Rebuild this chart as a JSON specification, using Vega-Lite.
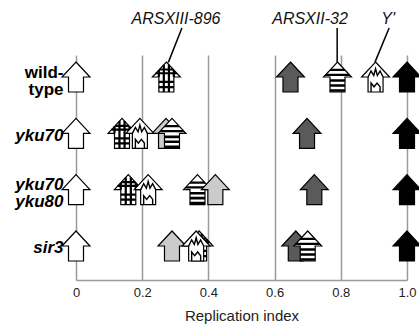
{
  "$schema": "https://vega.github.io/schema/vega-lite/v6.json",
  "width": 331,
  "height": 225,
  "autosize": {"type": "none"},
  "padding": {"left": 76, "top": 55, "right": 12, "bottom": 46},
  "background": "white",
  "config": {"view": {"stroke": null}},
  "datasets": {
    "arrows": [
      {"row": 1, "x": 0, "kind": "white", "z": 0},
      {"row": 1, "x": 0.273, "kind": "checkered", "z": 0},
      {"row": 1, "x": 0.648, "kind": "dark", "z": 0},
      {"row": 1, "x": 0.79, "kind": "striped", "z": 0},
      {"row": 1, "x": 0.905, "kind": "zigzag", "z": 0},
      {"row": 1, "x": 1, "kind": "black", "z": 0},
      {"row": 2, "x": 0, "kind": "white", "z": 0},
      {"row": 2, "x": 0.139, "kind": "checkered", "z": 0},
      {"row": 2, "x": 0.193, "kind": "zigzag", "z": 1},
      {"row": 2, "x": 0.272, "kind": "light", "z": 0},
      {"row": 2, "x": 0.29, "kind": "striped", "z": 1},
      {"row": 2, "x": 0.698, "kind": "dark", "z": 0},
      {"row": 2, "x": 1, "kind": "black", "z": 0},
      {"row": 3, "x": 0, "kind": "white", "z": 0},
      {"row": 3, "x": 0.158, "kind": "checkered", "z": 0},
      {"row": 3, "x": 0.218, "kind": "zigzag", "z": 1},
      {"row": 3, "x": 0.367, "kind": "striped", "z": 0},
      {"row": 3, "x": 0.421, "kind": "light", "z": 1},
      {"row": 3, "x": 0.72, "kind": "dark", "z": 0},
      {"row": 3, "x": 1, "kind": "black", "z": 0},
      {"row": 4, "x": 0, "kind": "white", "z": 0},
      {"row": 4, "x": 0.29, "kind": "light", "z": 0},
      {"row": 4, "x": 0.372, "kind": "checkered", "z": 0},
      {"row": 4, "x": 0.363, "kind": "zigzag", "z": 1},
      {"row": 4, "x": 0.664, "kind": "dark", "z": 0},
      {"row": 4, "x": 0.70, "kind": "striped", "z": 1},
      {"row": 4, "x": 1, "kind": "black", "z": 0}
    ],
    "notes": [
      {"label": "ARSXIII-896", "tx": 0.302, "ty": -0.03, "x1": 0.320, "y1": 0.13, "x2": 0.279, "y2": 0.74},
      {"label": "ARSXII-32", "tx": 0.707, "ty": -0.03, "x1": 0.789, "y1": 0.13, "x2": 0.789, "y2": 0.74},
      {"label": "Y'", "tx": 0.943, "ty": -0.03, "x1": 0.946, "y1": 0.13, "x2": 0.903, "y2": 0.74}
    ]
  },
  "encoding": {
    "x": {
      "field": "x", "type": "quantitative",
      "scale": {"domain": [0, 1], "nice": false, "zero": false},
      "axis": {
        "values": [0, 0.2, 0.4, 0.6, 0.8, 1],
        "labelExpr": "datum.value == 0 ? '0' : format(datum.value, '.1f')",
        "grid": true, "gridColor": "#9a9a9a", "gridWidth": 1.5,
        "ticks": false,
        "domain": true, "domainColor": "#9a9a9a", "domainWidth": 1.5,
        "labelFlush": false,
        "labelFont": "Liberation Sans", "labelFontSize": 13, "labelColor": "#222",
        "labelPadding": 6,
        "title": "Replication index",
        "titleFont": "Liberation Sans", "titleFontSize": 15, "titleFontWeight": "normal", "titleColor": "#222",
        "titlePadding": 9
      }
    },
    "y": {
      "field": "row", "type": "quantitative",
      "scale": {"domain": [0.609, 4.604], "nice": false, "zero": false, "reverse": true},
      "axis": {
        "values": [1, 2, 3, 4],
        "labelExpr": "datum.value == 1 ? ['wild-', 'type'] : datum.value == 2 ? 'yku70' : datum.value == 3 ? ['yku70', 'yku80'] : 'sir3'",
        "labelFont": "Liberation Sans", "labelFontSize": 17, "labelFontWeight": "bold",
        "labelFontStyle": {"condition": {"test": "datum.value == 1", "value": "normal"}, "value": "italic"},
        "labelColor": "black", "labelLineHeight": 17, "labelOverlap": false,
        "labelPadding": 13,
        "labelOffset": {"condition": {"test": "datum.value == 1 || datum.value == 3", "value": -5}, "value": 2},
        "ticks": false, "domain": false, "grid": false, "title": null
      }
    }
  },
  "layer": [
    {
      "data": {"name": "notes"},
      "mark": {"type": "rule", "stroke": "black", "strokeWidth": 1.5},
      "encoding": {
        "x": {"field": "x1", "type": "quantitative"},
        "y": {"field": "y1", "type": "quantitative"},
        "x2": {"field": "x2"},
        "y2": {"field": "y2"}
      }
    },
    {
      "data": {"name": "notes"},
      "mark": {"type": "text", "font": "Liberation Sans", "fontSize": 16, "fontStyle": "italic", "color": "#111", "align": "center", "baseline": "middle"},
      "encoding": {
        "x": {"field": "tx", "type": "quantitative"},
        "y": {"field": "ty", "type": "quantitative"},
        "text": {"field": "label"}
      }
    },
    {
      "data": {"name": "arrows"},
      "transform": [{"filter": "datum.z == 0"}],
      "mark": {"type": "point", "shape": "M0,-1 L0.93,0 L0.5,0 L0.5,1 L-0.5,1 L-0.5,0 L-0.93,0 Z", "size": 900, "filled": true, "stroke": "black", "strokeWidth": 1.2, "opacity": 1},
      "encoding": {
        "color": {"field": "kind", "type": "nominal", "legend": null,
          "scale": {"domain": ["white", "checkered", "striped", "zigzag", "light", "dark", "black"], "range": ["#ffffff", "#ffffff", "#ffffff", "#ffffff", "#cbcbcb", "#5a5a5a", "#000000"]}}
      }
    },
    {
      "data": {"name": "arrows"},
      "transform": [{"filter": "datum.z == 0 && datum.kind == 'striped'"}],
      "mark": {"type": "point", "shape": "M-0.42,-0.55 L0.42,-0.55 L0.56,-0.4 L-0.56,-0.4 Z M-0.725,-0.22 L0.725,-0.22 L0.865,-0.07 L-0.865,-0.07 Z M-0.5,0.15 L0.5,0.15 L0.5,0.32 L-0.5,0.32 Z M-0.5,0.48 L0.5,0.48 L0.5,0.65 L-0.5,0.65 Z M-0.5,0.81 L0.5,0.81 L0.5,0.98 L-0.5,0.98 Z", "size": 900, "filled": true, "fill": "black", "strokeWidth": 0, "opacity": 1},
      "encoding": {}
    },
    {
      "data": {"name": "arrows"},
      "transform": [{"filter": "datum.z == 0 && datum.kind == 'checkered'"}],
      "mark": {"type": "point", "shape": "M-0.17,-0.82 L-0.17,1 M0.17,-0.82 L0.17,1 M-0.5,-0.46 L-0.5,0 M0.5,-0.46 L0.5,0 M-0.465,-0.5 L0.465,-0.5 M-0.7,-0.25 L0.7,-0.25 M-0.5,0.33 L0.5,0.33 M-0.5,0.67 L0.5,0.67", "size": 900, "filled": false, "stroke": "black", "strokeWidth": 2.2, "opacity": 1},
      "encoding": {}
    },
    {
      "data": {"name": "arrows"},
      "transform": [{"filter": "datum.z == 0 && datum.kind == 'zigzag'"}],
      "mark": {"type": "point", "shape": "M-0.5,0 L-0.3,-0.4 L-0.12,-0.1 L0,-0.55 L0.12,-0.1 L0.3,-0.4 L0.5,0 M-0.3,1 L-0.3,0.4 L-0.1,0.65 L0.1,0.4 L0.3,0.65 L0.3,1", "size": 900, "filled": false, "stroke": "black", "strokeWidth": 1.4, "opacity": 1},
      "encoding": {}
    },
    {
      "data": {"name": "arrows"},
      "transform": [{"filter": "datum.z == 1"}],
      "mark": {"type": "point", "shape": "M0,-1 L0.93,0 L0.5,0 L0.5,1 L-0.5,1 L-0.5,0 L-0.93,0 Z", "size": 900, "filled": true, "stroke": "black", "strokeWidth": 1.2, "opacity": 1},
      "encoding": {
        "color": {"field": "kind", "type": "nominal", "legend": null,
          "scale": {"domain": ["white", "checkered", "striped", "zigzag", "light", "dark", "black"], "range": ["#ffffff", "#ffffff", "#ffffff", "#ffffff", "#cbcbcb", "#5a5a5a", "#000000"]}}
      }
    },
    {
      "data": {"name": "arrows"},
      "transform": [{"filter": "datum.z == 1 && datum.kind == 'striped'"}],
      "mark": {"type": "point", "shape": "M-0.42,-0.55 L0.42,-0.55 L0.56,-0.4 L-0.56,-0.4 Z M-0.725,-0.22 L0.725,-0.22 L0.865,-0.07 L-0.865,-0.07 Z M-0.5,0.15 L0.5,0.15 L0.5,0.32 L-0.5,0.32 Z M-0.5,0.48 L0.5,0.48 L0.5,0.65 L-0.5,0.65 Z M-0.5,0.81 L0.5,0.81 L0.5,0.98 L-0.5,0.98 Z", "size": 900, "filled": true, "fill": "black", "strokeWidth": 0, "opacity": 1},
      "encoding": {}
    },
    {
      "data": {"name": "arrows"},
      "transform": [{"filter": "datum.z == 1 && datum.kind == 'checkered'"}],
      "mark": {"type": "point", "shape": "M-0.17,-0.82 L-0.17,1 M0.17,-0.82 L0.17,1 M-0.5,-0.46 L-0.5,0 M0.5,-0.46 L0.5,0 M-0.465,-0.5 L0.465,-0.5 M-0.7,-0.25 L0.7,-0.25 M-0.5,0.33 L0.5,0.33 M-0.5,0.67 L0.5,0.67", "size": 900, "filled": false, "stroke": "black", "strokeWidth": 2.2, "opacity": 1},
      "encoding": {}
    },
    {
      "data": {"name": "arrows"},
      "transform": [{"filter": "datum.z == 1 && datum.kind == 'zigzag'"}],
      "mark": {"type": "point", "shape": "M-0.5,0 L-0.3,-0.4 L-0.12,-0.1 L0,-0.55 L0.12,-0.1 L0.3,-0.4 L0.5,0 M-0.3,1 L-0.3,0.4 L-0.1,0.65 L0.1,0.4 L0.3,0.65 L0.3,1", "size": 900, "filled": false, "stroke": "black", "strokeWidth": 1.4, "opacity": 1},
      "encoding": {}
    }
  ]
}
